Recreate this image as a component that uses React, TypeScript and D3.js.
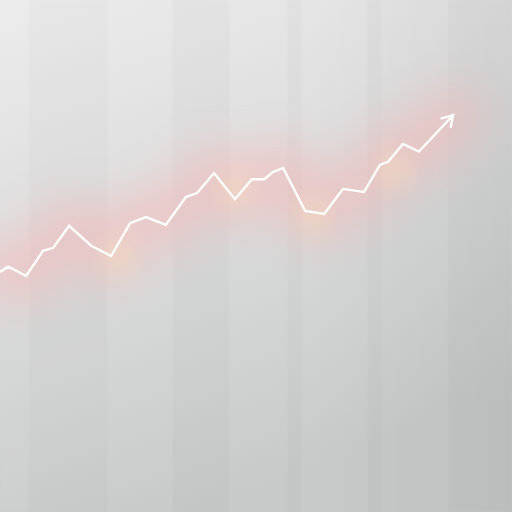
import React from 'react';
import * as d3 from 'd3';

// trend series (time in %, value index)
const times = [0, 1.6, 5.1, 8.4, 10.4, 13.5, 17.8, 21.7, 25.4, 28.5, 32.4, 36.3, 38.5, 41.8, 45.9, 49.2, 51.6, 53.3, 55.3, 59.6, 63.3, 67.0, 71.1, 74.2, 75.8, 78.7, 81.8, 88.5];
const values = [46.9, 47.9, 46.1, 51.0, 51.6, 55.9, 52.0, 50.0, 56.4, 57.6, 56.1, 61.5, 62.3, 66.2, 61.1, 65.0, 65.0, 66.4, 67.2, 58.8, 58.2, 63.1, 62.5, 67.8, 68.4, 71.9, 70.4, 77.5];

// background column boundaries (time %) and shade of each column
const bandEdges = [0, 5.5, 21.1, 33.6, 44.9, 56.1, 59.0, 71.7, 74.6, 87.5, 100];
const bandShades = [0.03, -0.01, 0.025, -0.015, 0.02, -0.015, 0.02, -0.015, 0.005, -0.02];

// warm hot spots along the glow (time %, value)
const hotTimes = [23, 46, 61, 77];
const hotValues = [50, 63, 58, 67];

const W = 512;
const H = 512;

const App: React.FC = () => {
  const x = d3.scaleLinear().domain([0, 100]).range([0, W]);
  const y = d3.scaleLinear().domain([0, 100]).range([H, 0]);

  const pts: [number, number][] = times.map((t, i) => [x(t), y(values[i])]);
  const line = d3.line().curve(d3.curveLinear)(pts) || '';

  // arrow head from the last segment direction
  const [tx, ty] = pts[pts.length - 1];
  const [px, py] = pts[pts.length - 2];
  const ang = Math.atan2(ty - py, tx - px);
  const len = 12;
  const a1 = [tx - len * Math.cos(ang - 0.55), ty - len * Math.sin(ang - 0.55)];
  const a2 = [tx - len * Math.cos(ang + 0.55), ty - len * Math.sin(ang + 0.55)];
  const head = `M${a1[0]},${a1[1]}L${tx},${ty}L${a2[0]},${a2[1]}`;

  return (
    <svg
      width={W}
      height={H}
      style={{ position: 'absolute', top: 0, left: 0, display: 'block' }}
    >
      <defs>
        <linearGradient id="bg" x1="0" y1="0" x2="0.35" y2="1">
          <stop offset="0" stopColor="#ebebeb" />
          <stop offset="0.45" stopColor="#dcdcdc" />
          <stop offset="1" stopColor="#c7c9c9" />
        </linearGradient>
        <linearGradient id="shadeR" x1="0" y1="0" x2="1" y2="0">
          <stop offset="0.6" stopColor="#000" stopOpacity="0" />
          <stop offset="1" stopColor="#000" stopOpacity="0.04" />
        </linearGradient>
        <filter id="glow" x="-20%" y="-60%" width="140%" height="220%">
          <feGaussianBlur stdDeviation="20" />
        </filter>
        <filter id="glow2" x="-30%" y="-60%" width="160%" height="220%">
          <feGaussianBlur stdDeviation="12" />
        </filter>
        <filter id="bandBlur" x="-10%" y="0%" width="120%" height="100%">
          <feGaussianBlur stdDeviation="1.2" />
        </filter>
        <filter id="soft" x="-10%" y="-10%" width="120%" height="120%">
          <feGaussianBlur stdDeviation="0.4" />
        </filter>
      </defs>

      <rect width={W} height={H} fill="url(#bg)" />
      <g filter="url(#bandBlur)">
        {bandShades.map((s, i) => (
          <rect
            key={i}
            x={x(bandEdges[i])}
            y={0}
            width={x(bandEdges[i + 1]) - x(bandEdges[i])}
            height={H}
            fill={s > 0 ? '#ffffff' : '#000000'}
            opacity={Math.abs(s)}
          />
        ))}
      </g>
      <rect width={W} height={H} fill="url(#shadeR)" />

      <path d={line} fill="none" stroke="#ffb0b0" strokeWidth={56} strokeLinejoin="round" strokeLinecap="round" opacity={0.42} filter="url(#glow)" />
      {hotTimes.map((t, i) => (
        <circle key={i} cx={x(t)} cy={y(hotValues[i])} r={15} fill="#ffeab0" opacity={0.4} filter="url(#glow2)" />
      ))}

      <g filter="url(#soft)">
        <path d={line} fill="none" stroke="#ffffff" strokeWidth={2.4} strokeLinejoin="miter" />
        <path d={head} fill="none" stroke="#ffffff" strokeWidth={2.4} strokeLinecap="round" />
      </g>
    </svg>
  );
};

export default App;
